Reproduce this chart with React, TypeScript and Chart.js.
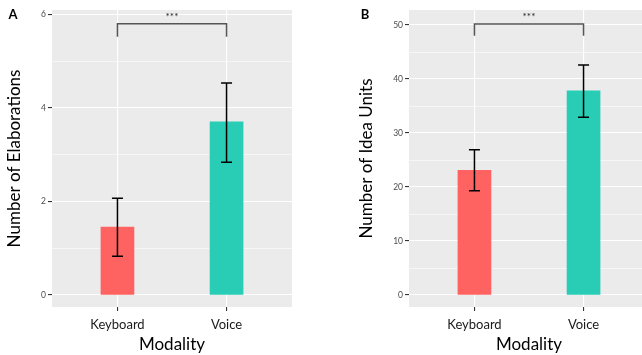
import React, { useEffect, useRef } from "react";
import { Chart, registerables } from "chart.js";

Chart.register(...registerables);

const categories = ["Keyboard", "Voice"];
const barColors = ["#FF6361", "#29CDB5"];

const elaborationMeans = [1.45, 3.7];
const elaborationLower = [0.83, 2.84];
const elaborationUpper = [2.07, 4.53];
const elaborationMajorTicks = [0, 2, 4, 6];
const elaborationMinorTicks = [1, 3, 5];

const ideaMeans = [23.1, 37.8];
const ideaLower = [19.3, 32.9];
const ideaUpper = [26.9, 42.6];
const ideaMajorTicks = [0, 10, 20, 30, 40, 50];
const ideaMinorTicks = [5, 15, 25, 35, 45];

const FONT = "Lato, 'DejaVu Sans', sans-serif";

const panelBg = {
  id: "panelBg",
  beforeDraw(chart: any) {
    const { ctx, chartArea: a } = chart;
    ctx.save();
    ctx.fillStyle = "#EBEBEB";
    ctx.fillRect(a.left, a.top, a.right - a.left, a.bottom - a.top);
    ctx.restore();
  },
};

const errorBars = {
  id: "errorBars",
  afterDatasetsDraw(chart: any, _args: any, opts: any) {
    const { ctx } = chart;
    const xs = chart.scales.x;
    const ys = chart.scales.y;
    ctx.save();
    ctx.strokeStyle = "#000000";
    ctx.lineWidth = 1.5;
    (opts.lower || []).forEach((lo: number, i: number) => {
      const hi = opts.upper[i];
      const x = xs.getPixelForValue(i + 1);
      const y1 = ys.getPixelForValue(lo);
      const y2 = ys.getPixelForValue(hi);
      ctx.beginPath();
      ctx.moveTo(x, y1);
      ctx.lineTo(x, y2);
      ctx.moveTo(x - 5.5, y1);
      ctx.lineTo(x + 5.5, y1);
      ctx.moveTo(x - 5.5, y2);
      ctx.lineTo(x + 5.5, y2);
      ctx.stroke();
    });
    ctx.restore();
  },
};

const bracket = {
  id: "bracket",
  afterDatasetsDraw(chart: any, _args: any, opts: any) {
    if (opts.top == null) return;
    const { ctx } = chart;
    const xs = chart.scales.x;
    const ys = chart.scales.y;
    const x1 = xs.getPixelForValue(1);
    const x2 = xs.getPixelForValue(2);
    const yt = ys.getPixelForValue(opts.top);
    const yb = ys.getPixelForValue(opts.bottom);
    ctx.save();
    ctx.strokeStyle = "#555555";
    ctx.lineWidth = 1.5;
    ctx.beginPath();
    ctx.moveTo(x1, yb);
    ctx.lineTo(x1, yt);
    ctx.lineTo(x2, yt);
    ctx.lineTo(x2, yb);
    ctx.stroke();
    ctx.fillStyle = "#222222";
    ctx.font = `10px ${FONT}`;
    ctx.textAlign = "center";
    ctx.textBaseline = "middle";
    ctx.fillText(opts.label, (x1 + x2) / 2, yt - 7);
    ctx.restore();
  },
};

const panelLabel = {
  id: "panelLabel",
  afterDraw(chart: any, _args: any, opts: any) {
    if (!opts.text) return;
    const { ctx } = chart;
    ctx.save();
    ctx.fillStyle = "#000000";
    ctx.font = `bold 13px ${FONT}`;
    ctx.textAlign = "center";
    ctx.textBaseline = "middle";
    ctx.fillText(opts.text, opts.x, opts.y);
    ctx.restore();
  },
};

function makeConfig(p: {
  means: number[];
  lower: number[];
  upper: number[];
  major: number[];
  minor: number[];
  yMin: number;
  yMax: number;
  yTitle: string;
  yAxisWidth: number;
  titlePad: number;
  rightPad: number;
  label: string;
  labelX: number;
  bracketTop: number;
  bracketBottom: number;
}) {
  const allTicks = [...p.major, ...p.minor].sort((a, b) => a - b);
  const isMajor = (v: number) => p.major.includes(v);
  return {
    type: "bar",
    data: {
      datasets: [
        {
          data: categories.map((_, i) => ({ x: i + 1, y: p.means[i] })),
          backgroundColor: barColors,
          borderWidth: 0,
          barThickness: 33,
        },
      ],
    },
    options: {
      animation: false,
      responsive: false,
      devicePixelRatio: 1,
      layout: { padding: { top: 10, left: 0, right: p.rightPad, bottom: 0 } },
      plugins: {
        legend: { display: false },
        tooltip: { enabled: false },
        errorBars: { lower: p.lower, upper: p.upper },
        bracket: { top: p.bracketTop, bottom: p.bracketBottom, label: "***" },
        panelLabel: { text: p.label, x: p.labelX, y: 15 },
      },
      scales: {
        x: {
          type: "linear",
          min: 0.4,
          max: 2.6,
          offset: false,
          afterBuildTicks: (s: any) => {
            s.ticks = categories.map((_, i) => ({ value: i + 1 }));
          },
          afterFit: (s: any) => {
            s.height = 48;
          },
          ticks: {
            autoSkip: false,
            maxRotation: 0,
            padding: 6,
            color: "#1A1A1A",
            font: { family: FONT, size: 13 },
            callback: (v: number) => categories[v - 1] ?? "",
          },
          grid: {
            offset: false,
            color: "#FFFFFF",
            lineWidth: 1.1,
            tickColor: "#333333",
            tickLength: 4,
            drawTicks: true,
          },
          border: { display: false },
          title: {
            display: true,
            text: "Modality",
            color: "#000000",
            font: { family: FONT, size: 17 },
            padding: { top: 1, bottom: 0 },
          },
        },
        y: {
          type: "linear",
          min: p.yMin,
          max: p.yMax,
          afterBuildTicks: (s: any) => {
            s.ticks = allTicks.map((v) => ({ value: v }));
          },
          afterFit: (s: any) => {
            s.width = p.yAxisWidth;
          },
          ticks: {
            autoSkip: false,
            padding: 2,
            color: "#4D4D4D",
            font: { family: FONT, size: 8.5 },
            callback: (v: number) => (isMajor(v) ? String(v) : ""),
          },
          grid: {
            color: "#FFFFFF",
            lineWidth: (ctx: any) => (isMajor(ctx.tick?.value) ? 1.1 : 0.55),
            tickColor: (ctx: any) =>
              isMajor(ctx.tick?.value) ? "#333333" : "rgba(0,0,0,0)",
            tickLength: 4,
          },
          border: { display: false },
          title: {
            display: true,
            text: p.yTitle,
            color: "#000000",
            font: { family: FONT, size: 17 },
            padding: { top: p.titlePad, bottom: 0 },
          },
        },
      },
    },
    plugins: [panelBg, errorBars, bracket, panelLabel],
  };
}

function Panel(props: { config: any; width: number; left: number }) {
  const ref = useRef<HTMLCanvasElement | null>(null);
  useEffect(() => {
    if (!ref.current) return;
    const chart = new Chart(ref.current, props.config);
    return () => chart.destroy();
  }, []);
  return (
    <canvas
      ref={ref}
      width={props.width}
      height={355}
      style={{ position: "absolute", left: props.left, top: 0, width: props.width, height: 355 }}
    />
  );
}

const configA = makeConfig({
  means: elaborationMeans,
  lower: elaborationLower,
  upper: elaborationUpper,
  major: elaborationMajorTicks,
  minor: elaborationMinorTicks,
  yMin: -0.2565,
  yMax: 6.092,
  yTitle: "Number of Elaborations",
  yAxisWidth: 52,
  titlePad: 4,
  rightPad: 28,
  label: "A",
  labelX: 13,
  bracketTop: 5.8,
  bracketBottom: 5.52,
});

const configB = makeConfig({
  means: ideaMeans,
  lower: ideaLower,
  upper: ideaUpper,
  major: ideaMajorTicks,
  minor: ideaMinorTicks,
  yMin: -2.22,
  yMax: 52.78,
  yTitle: "Number of Idea Units",
  yAxisWidth: 89,
  titlePad: 36,
  rightPad: 0,
  label: "B",
  labelX: 45,
  bracketTop: 50.2,
  bracketBottom: 48.0,
});

export default function App() {
  return (
    <div
      style={{
        position: "fixed",
        left: 0,
        top: 0,
        width: 642,
        height: 355,
        overflow: "hidden",
        background: "#FFFFFF",
      }}
    >
      <Panel config={configA} width={320} left={0} />
      <Panel config={configB} width={329} left={320} />
    </div>
  );
}
